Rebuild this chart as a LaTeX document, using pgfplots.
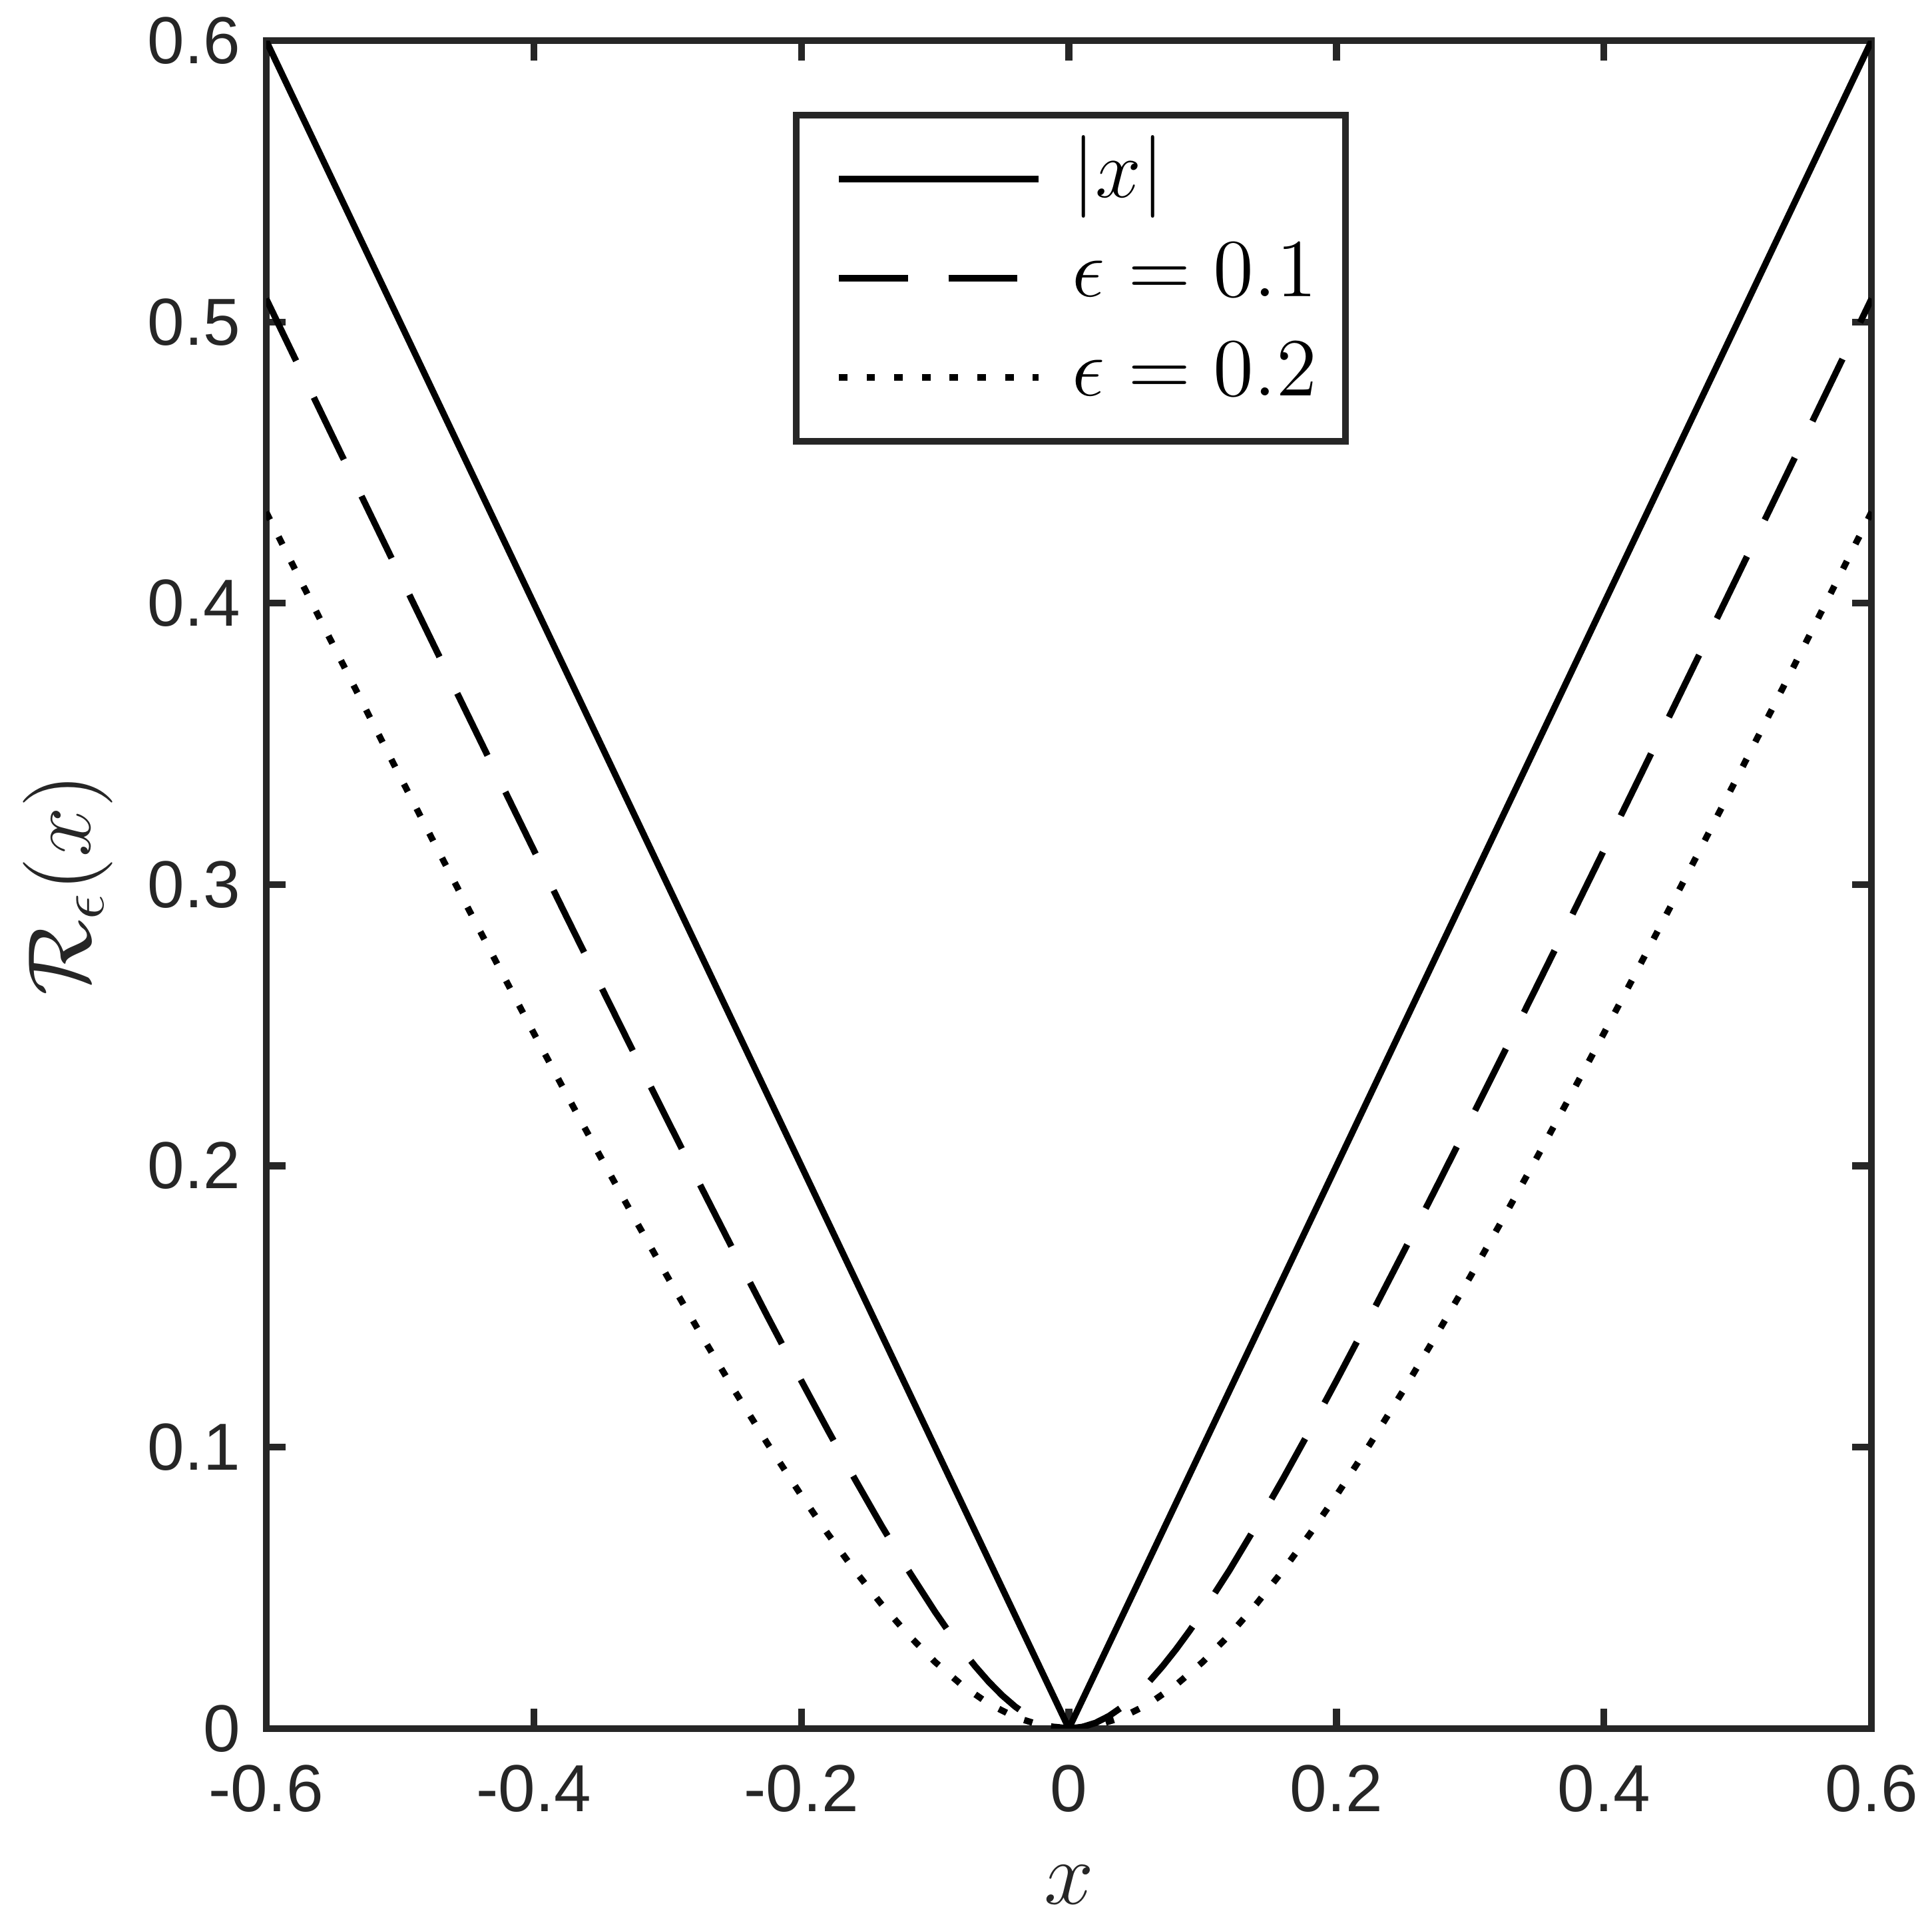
\RequirePackage{fix-cm}
\documentclass[border=0pt]{standalone}
\usepackage{fontspec}
\setmainfont{Liberation Sans}
\usepackage{pgfplots}
\usepackage{pgfplotstable}
\pgfplotsset{compat=1.18}
\definecolor{axgray}{HTML}{262626}

\pgfplotstableread{
x y
-0.6 0.50828
-0.575 0.48363
-0.55 0.45902
-0.525 0.43444
-0.5 0.40990
-0.475 0.38541
-0.45 0.36098
-0.425 0.33661
-0.4 0.31231
-0.375 0.28810
-0.35 0.26401
-0.325 0.24004
-0.3 0.21623
-0.275 0.19262
-0.25 0.16926
-0.225 0.14622
-0.2 0.12361
-0.18 0.10591
-0.16 0.08868
-0.14 0.07205
-0.12 0.05620
-0.1 0.04142
-0.09 0.03454
-0.08 0.02806
-0.07 0.02207
-0.06 0.01662
-0.05 0.01180
-0.04 0.00770
-0.03 0.00440
-0.02 0.00198
-0.01 0.00050
0 0
0.01 0.00050
0.02 0.00198
0.03 0.00440
0.04 0.00770
0.05 0.01180
0.06 0.01662
0.07 0.02207
0.08 0.02806
0.09 0.03454
0.1 0.04142
0.12 0.05620
0.14 0.07205
0.16 0.08868
0.18 0.10591
0.2 0.12361
0.225 0.14622
0.25 0.16926
0.275 0.19262
0.3 0.21623
0.325 0.24004
0.35 0.26401
0.375 0.28810
0.4 0.31231
0.425 0.33661
0.45 0.36098
0.475 0.38541
0.5 0.40990
0.525 0.43444
0.55 0.45902
0.575 0.48363
0.6 0.50828
}\epsA

\pgfplotstableread{
x y
-0.6 0.43246
-0.575 0.40879
-0.55 0.38524
-0.525 0.36181
-0.5 0.33852
-0.475 0.31539
-0.45 0.29244
-0.425 0.26971
-0.4 0.24721
-0.375 0.22500
-0.35 0.20311
-0.325 0.18161
-0.3 0.16056
-0.275 0.14004
-0.25 0.12016
-0.225 0.10104
-0.2 0.08284
-0.18 0.06907
-0.16 0.05612
-0.14 0.04413
-0.12 0.03324
-0.1 0.02361
-0.08 0.01541
-0.06 0.00881
-0.04 0.00396
-0.02 0.00100
0 0
0.02 0.00100
0.04 0.00396
0.06 0.00881
0.08 0.01541
0.1 0.02361
0.12 0.03324
0.14 0.04413
0.16 0.05612
0.18 0.06907
0.2 0.08284
0.225 0.10104
0.25 0.12016
0.275 0.14004
0.3 0.16056
0.325 0.18161
0.35 0.20311
0.375 0.22500
0.4 0.24721
0.425 0.26971
0.45 0.29244
0.475 0.31539
0.5 0.33852
0.525 0.36181
0.55 0.38524
0.575 0.40879
0.6 0.43246
}\epsB

\begin{document}
\begin{tikzpicture}
\useasboundingbox (-43.2pt,-31.2pt) rectangle (270.4pt,280.6pt);
\begin{axis}[
  at={(0,0)}, anchor=south west,
  width=260.6pt, height=274pt, scale only axis,
  xmin=-0.6, xmax=0.6, ymin=0, ymax=0.6,
  xtick={-0.6,-0.4,-0.2,0,0.2,0.4,0.6},
  xticklabels={-0.6,-0.4,-0.2,0,0.2,0.4,0.6},
  ytick={0,0.1,0.2,0.3,0.4,0.5,0.6},
  yticklabels={0,0.1,0.2,0.3,0.4,0.5,0.6},
  tick align=inside,
  major tick length=3.2pt,
  tick style={axgray, line width=1.1pt},
  axis line style={axgray, line width=1.1pt},
  ticklabel style={font=\fontsize{10.8}{12}\selectfont, text=axgray},
  xticklabel style={inner sep=0pt, anchor=north, yshift=-5.8pt},
  yticklabel style={inner sep=0pt, anchor=east, xshift=-4pt},
  xlabel={$x$},
  ylabel={$\mathcal{R}_\epsilon(x)$},
  label style={font=\fontsize{14.5}{16}\selectfont, text=axgray},
  xlabel style={at={(axis description cs:0.5,-0.0927)}, anchor=center},
  ylabel style={at={(axis description cs:-0.1236,0.5)}, anchor=center},
  legend cell align=left,
  legend image code/.code={\path (0pt,0pt); \draw[#1] (1.8pt,0pt) -- (34.2pt,0pt);},
  legend style={at={(0.328,0.958)}, anchor=north west,
    draw=axgray, line width=1.1pt,
    font=\fontsize{13.4}{15}\selectfont,
    inner xsep=4.6pt, inner ysep=4.4pt,
    row sep=4.1pt, column sep=5pt,
    nodes={inner sep=0pt, text height=9pt, text depth=3pt}},
]
\addplot[black, line width=1.04pt] coordinates {(-0.6,0.6) (0,0) (0.6,0.6)};
\addlegendentry{$|x|$}
\addplot[black, line width=1.04pt, dash pattern=on 11.2pt off 6.6pt] table[x=x,y=y] {\epsA};
\addlegendentry{$\epsilon=0.1$}
\addplot[black, line width=1.04pt, dash pattern=on 1.4pt off 3.1pt] table[x=x,y=y] {\epsB};
\addlegendentry{$\epsilon=0.2$}
\end{axis}
\end{tikzpicture}
\end{document}
